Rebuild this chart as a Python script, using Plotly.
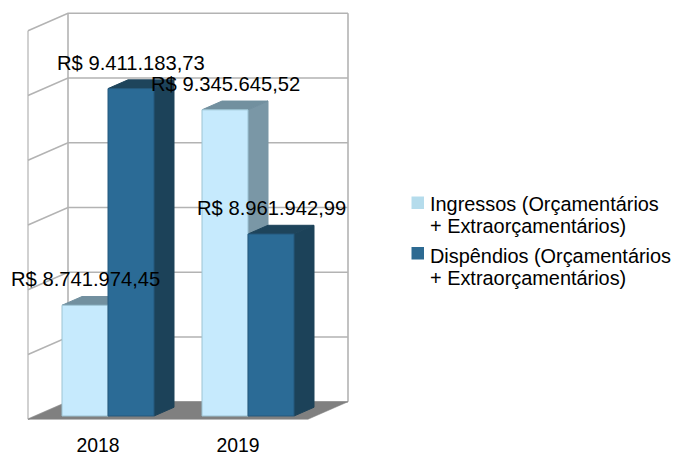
import plotly.graph_objects as go

years = ["2018", "2019"]
ingressos = [8741974.45, 9345645.52]
dispendios = [9411183.73, 8961942.99]
labels_ing = ["R$ 8.741.974,45", "R$ 9.345.645,52"]
labels_dis = ["R$ 9.411.183,73", "R$ 8.961.942,99"]
series_lines = [["Ingressos (Orçamentários", "+ Extraorçamentários)"],
                ["Dispêndios (Orçamentários", "+ Extraorçamentários)"]]
legend_colors = ["#b5dcec", "#2d6a92"]
value_ticks = [8400000, 8600000, 8800000, 9000000, 9200000, 9400000, 9600000]

W, H = 674, 453
FIG_W = 720                  # room for the legend; the excess past the window is blank paper
FONT = "Liberation Sans"
LABEL_SIZE = 20.2
LEGEND_SIZE = 19.9
CAT_PX = 140.0
VPP = 1000 / 0.3238          # value units per pixel
BASE = value_ticks[0]
BAR_PX = 46.0
BAR_U = BAR_PX / CAT_PX
SHIFT = 10 / CAT_PX          # bars stand 10 px deep from the front edge
DEPTH = 20.0
SLOPE = 0.4375
GRID = "#b3b3b3"
WALL_UP = 1.1 * VPP          # the walls sit slightly above the bars' plane
PLOT_H = 421


def proj(u, v, d):
    return u + d / CAT_PX, v + d * SLOPE * VPP


def wall(u, v, d):
    return proj(u, v + WALL_UP, d)


def polyline(points):
    xs, ys = [], []
    for p in points:
        if p is None:
            xs.append(None); ys.append(None)
        else:
            xs.append(p[0]); ys.append(p[1])
    return xs, ys


centers_ing = [i + SHIFT - BAR_U / 2 for i in range(len(years))]
centers_dis = [i + SHIFT + BAR_U / 2 for i in range(len(years))]
LEFT = -0.5 + SHIFT
RIGHT = len(years) - 0.5 + SHIFT
FRONT, BACK = -10, 30

fig = go.Figure()

# walls
pts = []
for v in value_ticks:
    pts += [wall(LEFT, v, FRONT), wall(LEFT, v, BACK), wall(RIGHT, v, BACK), None]
pts += [wall(LEFT, value_ticks[0], BACK), wall(LEFT, value_ticks[-1], BACK), None,
        wall(RIGHT, value_ticks[0], BACK), wall(RIGHT, value_ticks[-1], BACK), None]
x, y = polyline(pts)
fig.add_trace(go.Scatter(x=x, y=y, mode="lines", line=dict(color=GRID, width=1.6),
                         showlegend=False, hoverinfo="skip"))
x, y = polyline([wall(LEFT, value_ticks[0], FRONT), wall(LEFT, value_ticks[-1], FRONT)])
fig.add_trace(go.Scatter(x=x, y=y, mode="lines", line=dict(color=GRID, width=1.2),
                         showlegend=False, hoverinfo="skip"))
# floor
x, y = polyline([wall(LEFT, BASE, FRONT), wall(LEFT, BASE, BACK), wall(RIGHT, BASE, BACK),
                 wall(RIGHT, BASE, FRONT), wall(LEFT, BASE, FRONT)])
fig.add_trace(go.Scatter(x=x, y=y, mode="lines", fill="toself", fillcolor="#808080",
                         line=dict(color="#808080", width=0.5), showlegend=False, hoverinfo="skip"))


def add_depth_faces(centers, values, side_color, top_color):
    side, top = [], []
    for c, v in zip(centers, values):
        l, r = c - BAR_U / 2, c + BAR_U / 2
        side += [proj(r, BASE, 0), proj(r, BASE, DEPTH), proj(r, v, DEPTH), proj(r, v, 0), proj(r, BASE, 0), None]
        top += [proj(l, v, 0), proj(l, v, DEPTH), proj(r, v, DEPTH), proj(r, v, 0), proj(l, v, 0), None]
    for poly, col in ((side, side_color), (top, top_color)):
        x, y = polyline(poly)
        fig.add_trace(go.Scatter(x=x, y=y, mode="lines", fill="toself", fillcolor=col,
                                 line=dict(color=col, width=1), showlegend=False, hoverinfo="skip"))


add_depth_faces(centers_ing, ingressos, "#7a97a6", "#72909f")
add_depth_faces(centers_dis, dispendios, "#1c4259", "#1e445b")

# front faces on an overlaid subplot so they cover the depth faces
for centers, values, col, edge in ((centers_ing, ingressos, "#c6eafd", "#9cc3d3"),
                                   (centers_dis, dispendios, "#2b6b96", "#25597c")):
    fig.add_trace(go.Bar(x=centers, y=[v - BASE for v in values], base=BASE, width=BAR_U,
                         marker=dict(color=col, line=dict(color=edge, width=1)),
                         showlegend=False, xaxis="x2", yaxis="y2"))

# legend entries: the text is the native legend's, its keys are drawn closer to the text
for i, lines in enumerate(series_lines):
    name = "<br>".join(f'<span style="font-size:{LEGEND_SIZE}px">{t}</span>' for t in lines)
    fig.add_trace(go.Bar(x=[None], y=[None], name=name, legendgroup=f"g{i}",
                         marker=dict(color="rgba(0,0,0,0)", line=dict(width=0)), xaxis="x2", yaxis="y2"))

for col, (top, bottom) in zip(legend_colors, ((196.5, 209), (247, 259.5))):
    fig.add_shape(type="rect", xref="paper", yref="paper", layer="above", line_width=0, fillcolor=col,
                  x0=411.5 / FIG_W, x1=424 / FIG_W, y0=1 - bottom / PLOT_H, y1=1 - top / PLOT_H)

for centers, values, labels in ((centers_ing, ingressos, labels_ing), (centers_dis, dispendios, labels_dis)):
    for c, v, t in zip(centers, values, labels):
        fig.add_annotation(x=c, y=v, xref="x", yref="y", text=t, showarrow=False, yanchor="middle",
                           xanchor="center", yshift=26, font=dict(family=FONT, size=LABEL_SIZE, color="#000000"))

xr = [-98 / CAT_PX, (FIG_W - 98) / CAT_PX]
yr = [BASE - 5 * VPP, BASE + (PLOT_H - 5) * VPP]
fig.update_layout(
    width=FIG_W, height=H, margin=dict(l=0, r=0, t=0, b=H - PLOT_H), paper_bgcolor="white",
    plot_bgcolor="rgba(0,0,0,0)", barmode="overlay", showlegend=True,
    xaxis=dict(range=xr, tickmode="array", tickvals=list(range(len(years))), ticktext=years, showgrid=False,
               zeroline=False, showline=False, ticks="outside", ticklen=7, tickcolor="rgba(0,0,0,0)",
               automargin=False, tickfont=dict(family=FONT, size=19.4, color="#000000")),
    yaxis=dict(range=yr, visible=False, automargin=False),
    xaxis2=dict(range=xr, overlaying="x", visible=False, automargin=False),
    yaxis2=dict(range=yr, overlaying="y", visible=False, automargin=False),
    legend=dict(x=405 / FIG_W, xanchor="left", y=1 - 186.5 / PLOT_H, yanchor="top",
                indentation=-15, tracegroupgap=4, traceorder="grouped", bgcolor="rgba(0,0,0,0)",
                font=dict(family=FONT, size=17.2, color="#000000")),
)
fig.write_html("out.html", config={"displayModeBar": False},
               post_script="document.body.style.margin='0';document.documentElement.style.overflow='hidden';")
